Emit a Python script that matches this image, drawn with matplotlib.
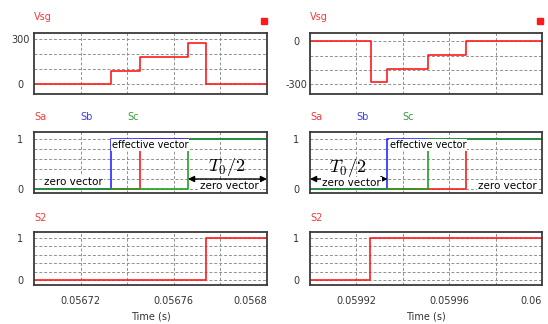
import matplotlib
matplotlib.use("Agg")
import matplotlib.pyplot as plt
from matplotlib.patches import Rectangle

plt.rcParams['font.family'] = ['DejaVu Sans']
plt.rcParams['mathtext.fontset'] = 'cm'

# ---- data ----
# left column (0.0567 .. 0.0568 s)
t_vsg_l = [0.0567, 0.056733, 0.0567455, 0.0567661, 0.0567738, 0.0568]
v_vsg_l = [0, 90, 180, 270, 0, 0]
t_sa_l = [0.0567, 0.0567455, 0.0568]
t_sb_l = [0.0567, 0.056733, 0.0568]
t_sc_l = [0.0567, 0.0567661, 0.0568]
t_s2_l = [0.0567, 0.056774, 0.0568]
s_on = [0, 1, 1]

# right column (0.0599 .. 0.06 s)
t_vsg_r = [0.0599, 0.0599263, 0.0599334, 0.0599509, 0.0599672, 0.0599909, 0.06]
v_vsg_r = [0, -285, -195, -98, 5, 0, 0]
t_sa_r = [0.0599, 0.0599672, 0.06]
t_sb_r = [0.0599, 0.0599334, 0.06]
t_sc_r = [0.0599, 0.0599509, 0.06]
t_s2_r = [0.0599, 0.059926, 0.06]

xlim_l = (0.0567, 0.0568)
xlim_r = (0.0599, 0.06)
xgrid_l = [0.05672, 0.05674, 0.05676, 0.05678, 0.0568]
xgrid_r = [0.05992, 0.05994, 0.05996, 0.05998, 0.06]
xlab_l = ['0.05672', '', '0.05676', '', '0.0568']
xlab_r = ['0.05992', '', '0.05996', '', '0.06']

RED = '#ff1a1a'
BLUE = '#2828ff'
GREEN = '#22a022'
TRED = '#ee3c3c'
TBLUE = '#3c3cf0'
TGREEN = '#3a9a3a'

fig = plt.figure(figsize=(5.48, 3.24), dpi=100)

cols = [0.0620, 0.5657]
widths = [0.4252, 0.4234]
rows = [(0.7099, 0.1883), (0.4043, 0.1883), (0.1204, 0.1636)]


def style(ax, xlim, xgrid, xlab, yticks, ylabels, ylim, show_x):
    ax.set_xlim(xlim)
    ax.set_ylim(ylim)
    ax.set_xticks(xgrid)
    ax.set_xticklabels(xlab if show_x else [''] * len(xgrid))
    ax.set_yticks(yticks)
    ax.set_yticklabels(ylabels)
    ax.tick_params(length=0, labelsize=7, colors='#333333')
    ax.tick_params(axis='y', pad=10)
    ax.tick_params(axis='x', pad=8)
    for lab in ax.get_yticklabels():
        lab.set_horizontalalignment('center')
    if show_x:
        ax.get_xticklabels()[-1].set_horizontalalignment('right')
    ax.grid(True, color='#909090', linestyle=(0, (3, 2)), linewidth=0.7)
    for sp in ax.spines.values():
        sp.set_color('#3a3a3a')
        sp.set_linewidth(1.3)


axes = []
for c in range(2):
    col = []
    for r in range(3):
        ax = fig.add_axes([cols[c], rows[r][0], widths[c], rows[r][1]])
        col.append(ax)
    axes.append(col)

# Vsg panels
for c, (t, v, xl, xg, xb) in enumerate([(t_vsg_l, v_vsg_l, xlim_l, xgrid_l, xlab_l),
                                         (t_vsg_r, v_vsg_r, xlim_r, xgrid_r, xlab_r)]):
    ax = axes[c][0]
    ax.step(t, v, where='post', color=RED, lw=1.2)
    if c == 0:
        style(ax, xl, xg, xb, [0, 100, 200, 300], ['0', '', '', '300'], (-63, 337), False)
    else:
        style(ax, xl, xg, xb, [-300, -200, -100, 0], ['-300', '', '', '0'], (-367, 58), False)
    ax.text(0, 1.26, 'Vsg', transform=ax.transAxes, color=TRED, fontsize=7,
            ha='left', va='center')

# switching signals
sw = [(t_sa_l, t_sb_l, t_sc_l), (t_sa_r, t_sb_r, t_sc_r)]
for c in range(2):
    ax = axes[c][1]
    ta, tb, tc = sw[c]
    ax.step(ta, s_on, where='post', color=RED, lw=1.2)
    ax.step(tb, s_on, where='post', color=BLUE, lw=1.2)
    ax.step(tc, s_on, where='post', color=GREEN, lw=1.2)
    xl, xg, xb = (xlim_l, xgrid_l, xlab_l) if c == 0 else (xlim_r, xgrid_r, xlab_r)
    style(ax, xl, xg, xb, [0, 0.2, 0.4, 0.6, 0.8, 1], ['0', '', '', '', '', '1'],
          (-0.08, 1.14), False)
    for name, xf, colr in [('Sa', 0, TRED), ('Sb', 0.2, TBLUE), ('Sc', 0.4, TGREEN)]:
        ax.text(xf, 1.25, name, transform=ax.transAxes, color=colr, fontsize=7,
                ha='left', va='center')

    ax3 = axes[c][2]
    ts2 = t_s2_l if c == 0 else t_s2_r
    ax3.step(ts2, s_on, where='post', color=RED, lw=1.2)
    style(ax3, xl, xg, xb, [0, 0.2, 0.4, 0.6, 0.8, 1], ['0', '', '', '', '', '1'],
          (-0.11, 1.14), True)
    ax3.set_xlabel('Time (s)', fontsize=7, color='#333333', labelpad=4)
    ax3.text(0, 1.27, 'S2', transform=ax3.transAxes, color=TRED, fontsize=7,
             ha='left', va='center')

box = dict(facecolor='white', edgecolor='none', pad=0.6)
arrow = dict(arrowstyle='<|-|>', color='black', lw=1.0, mutation_scale=9,
             shrinkA=0, shrinkB=0)

# annotations, left
ax = axes[0][1]
ax.text(0.0567498, 0.88, 'effective vector', fontsize=7, ha='center', va='center', bbox=box)
ax.text(0.056717, 0.14, 'zero vector', fontsize=7.5, ha='center', va='center', bbox=box)
ax.annotate('', xy=(0.0567661, 0.2), xytext=(0.0568, 0.2), arrowprops=arrow)
ax.text(0.0567826, 0.45, '$T_0/2$', fontsize=13, ha='center', va='center')
ax.text(0.0567839, 0.07, 'zero vector', fontsize=7.5, ha='center', va='center', bbox=box)

# annotations, right
ax = axes[1][1]
ax.text(0.0599509, 0.88, 'effective vector', fontsize=7, ha='center', va='center', bbox=box)
ax.annotate('', xy=(0.0599, 0.2), xytext=(0.0599334, 0.2), arrowprops=arrow)
ax.text(0.0599162, 0.43, '$T_0/2$', fontsize=13, ha='center', va='center')
ax.text(0.0599179, 0.13, 'zero vector', fontsize=7.5, ha='center', va='center', bbox=box)
ax.text(0.0599849, 0.07, 'zero vector', fontsize=7.5, ha='center', va='center', bbox=box)

# little red legend squares
for x0 in [261 / 548, 537 / 548]:
    fig.patches.append(Rectangle((x0, 1 - 24 / 324), 6 / 548, 6 / 324,
                                 transform=fig.transFigure, color=RED))

fig.savefig('out.png', dpi=100)
